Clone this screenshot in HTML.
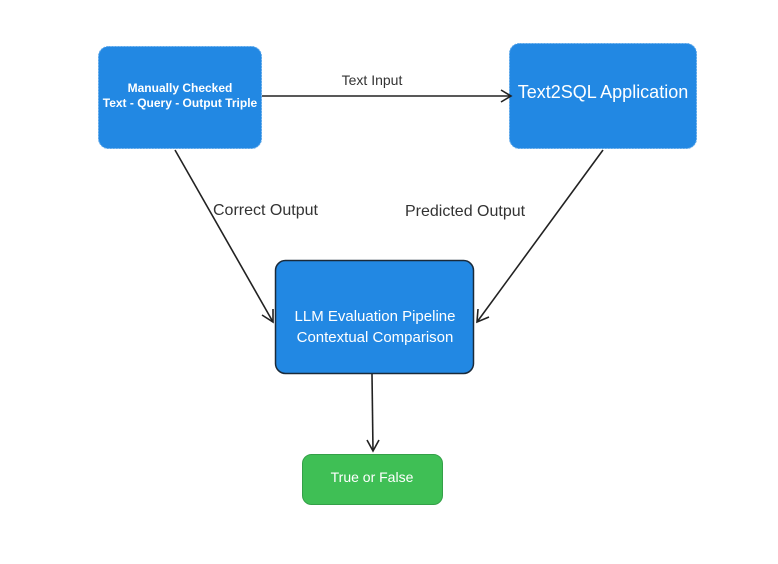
<!DOCTYPE html>
<html><head><meta charset="utf-8"><style>
html,body{margin:0;padding:0;background:#fff;}
</style></head><body>
<svg width="778" height="559" viewBox="0 0 778 559" xmlns="http://www.w3.org/2000/svg" font-family="Liberation Sans, Arial, sans-serif">
<rect x="0" y="0" width="778" height="559" fill="#fff"/>
<rect x="98.5" y="46.5" width="163" height="102" rx="10" fill="#2288e3" stroke="#5aa6ea" stroke-dasharray="2,1"/>
<rect x="509.5" y="43.5" width="187" height="105" rx="10" fill="#2288e3" stroke="#5aa6ea" stroke-dasharray="2,1"/>
<rect x="275.5" y="260.5" width="198" height="113" rx="10" fill="#2288e3" stroke="#1a2a3a" stroke-width="1.5"/>
<rect x="302.5" y="454.5" width="140" height="50" rx="9" fill="#3fbf55" stroke="#34a048"/>
<g stroke="#222" stroke-width="1.6" fill="none">
<line x1="262" y1="96" x2="511" y2="96"/><polyline points="501,90 511,96 501,102"/>
<line x1="175" y1="150" x2="273" y2="322"/><polyline points="273,309 273,322 262,315"/>
<line x1="603" y1="150" x2="477" y2="322"/><polyline points="478,309 477,322 489,317"/>
<line x1="372" y1="374" x2="373" y2="451"/><polyline points="367,440 373,451 379,440"/>
</g>
<g fill="#fff" text-anchor="middle">
<text x="180" y="92" font-size="12" font-weight="bold">Manually Checked</text>
<text x="180" y="107" font-size="12" font-weight="bold">Text - Query - Output Triple</text>
<text x="603" y="98" font-size="18">Text2SQL Application</text>
<text x="375" y="321" font-size="15">LLM Evaluation Pipeline</text>
<text x="375" y="342" font-size="15">Contextual Comparison</text>
<text x="372" y="482" font-size="14">True or False</text>
</g>
<g fill="#333">
<text x="372" y="85" font-size="14" text-anchor="middle">Text Input</text>
<text x="213" y="215" font-size="16">Correct Output</text>
<text x="405" y="216" font-size="16">Predicted Output</text>
</g>
</svg>
</body></html>
